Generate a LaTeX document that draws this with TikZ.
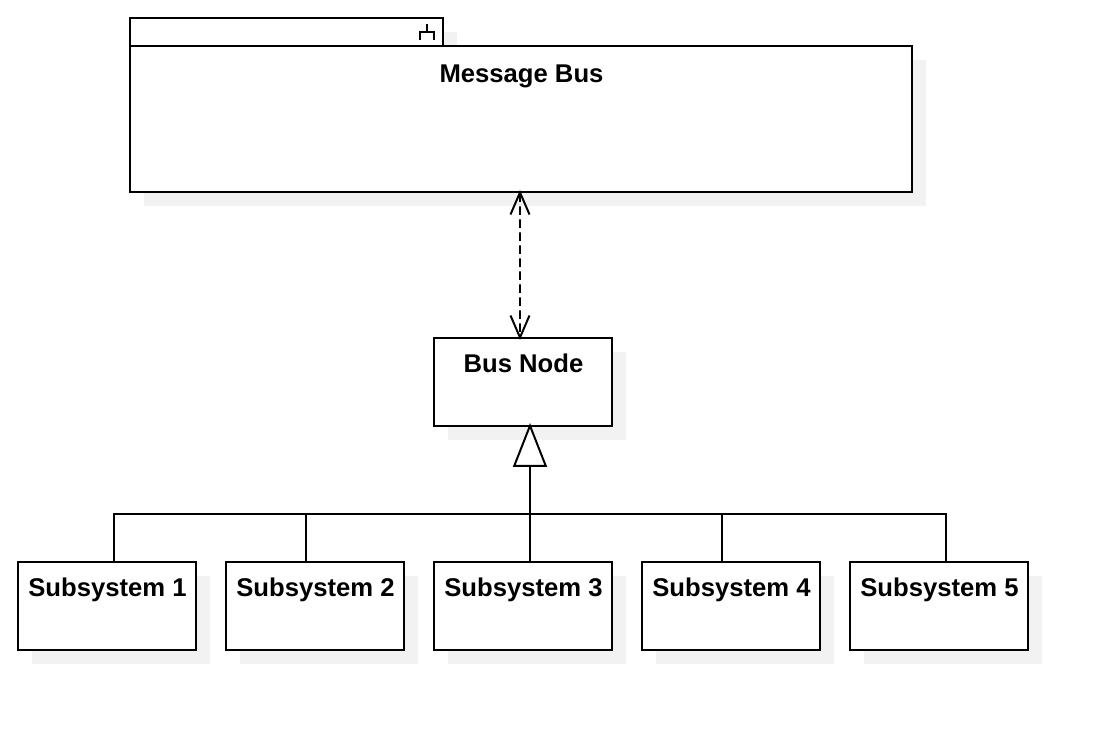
\documentclass[tikz,border=0pt]{standalone}
\usepackage{fontspec}
\setmainfont{Liberation Sans}
\usetikzlibrary{arrows.meta,shadows}
\definecolor{shadowgray}{RGB}{242,242,242}
\tikzset{
    umlbox/.style={draw=black, fill=white, line width=1.13pt, inner sep=0pt, outer sep=0pt,
        copy shadow={shadow xshift=0.28cm, shadow yshift=-0.28cm, draw=none, fill=shadowgray}},
    subbox/.style={umlbox, minimum width=3.56cm, minimum height=1.76cm},
    boxtitle/.style={anchor=base, inner sep=0pt, font=\fontsize{14.6pt}{16pt}\selectfont\bfseries},
    busline/.style={line width=1.13pt, draw=black},
    dependency/.style={busline, dashed, dash pattern=on 0.17cm off 0.09cm,
        {Straight Barb[length=0.44cm, width=0.38cm, line width=1.13pt]}-{Straight Barb[length=0.44cm, width=0.38cm, line width=1.13pt]}},
    generalize/.style={busline, -{Triangle[open, fill=white, length=0.88cm, width=0.68cm, line width=1.13pt]}}
}
\begin{document}
\begin{tikzpicture}[x=0.02cm, y=-0.02cm]
    \useasboundingbox (0,0) rectangle (1110,732);

    % Package
    \node[umlbox, minimum width=6.26cm, minimum height=0.56cm] (bustab) at (286.5,32) {};
    \node[umlbox, minimum width=15.64cm, minimum height=2.92cm] (msgbus) at (521,119) {};
    \node[boxtitle] (msgbustitle) at (521.5,82.5) {Message Bus};

    % Component icon
    \draw[line width=0.9pt] (420,40) -- (420,32) -- (434,32) -- (434,40) (427,32) -- (427,24);

    % Bus node
    \node[subbox] (busnode) at (523,382) {};
    \node[boxtitle] (busnodetitle) at (523.5,372.5) {Bus Node};

    % Subsystems
    \foreach \i/\x in {1/107,2/315,3/523,4/731,5/939} {
        \node[subbox] (sub\i) at (\x,606) {};
        \node[boxtitle] (subtitle\i) at (\x+0.5,596.5) {Subsystem \i};
    }

    % Connectors
    \draw[dependency] ([xshift=-0.02cm,yshift=0.04cm]msgbus.south) -- ([xshift=-0.06cm,yshift=-0.04cm]busnode.north);
    \coordinate (trunk) at (530,514);
    \foreach \i/\s in {1/0.14,2/-0.18,4/-0.18,5/0.14} {
        \draw[busline] ([xshift=\s cm]sub\i.north) |- (trunk);
    }
    \draw[generalize] ([xshift=0.14cm]sub3.north) -- ([xshift=0.14cm,yshift=0.06cm]busnode.south);
\end{tikzpicture}
\end{document}
